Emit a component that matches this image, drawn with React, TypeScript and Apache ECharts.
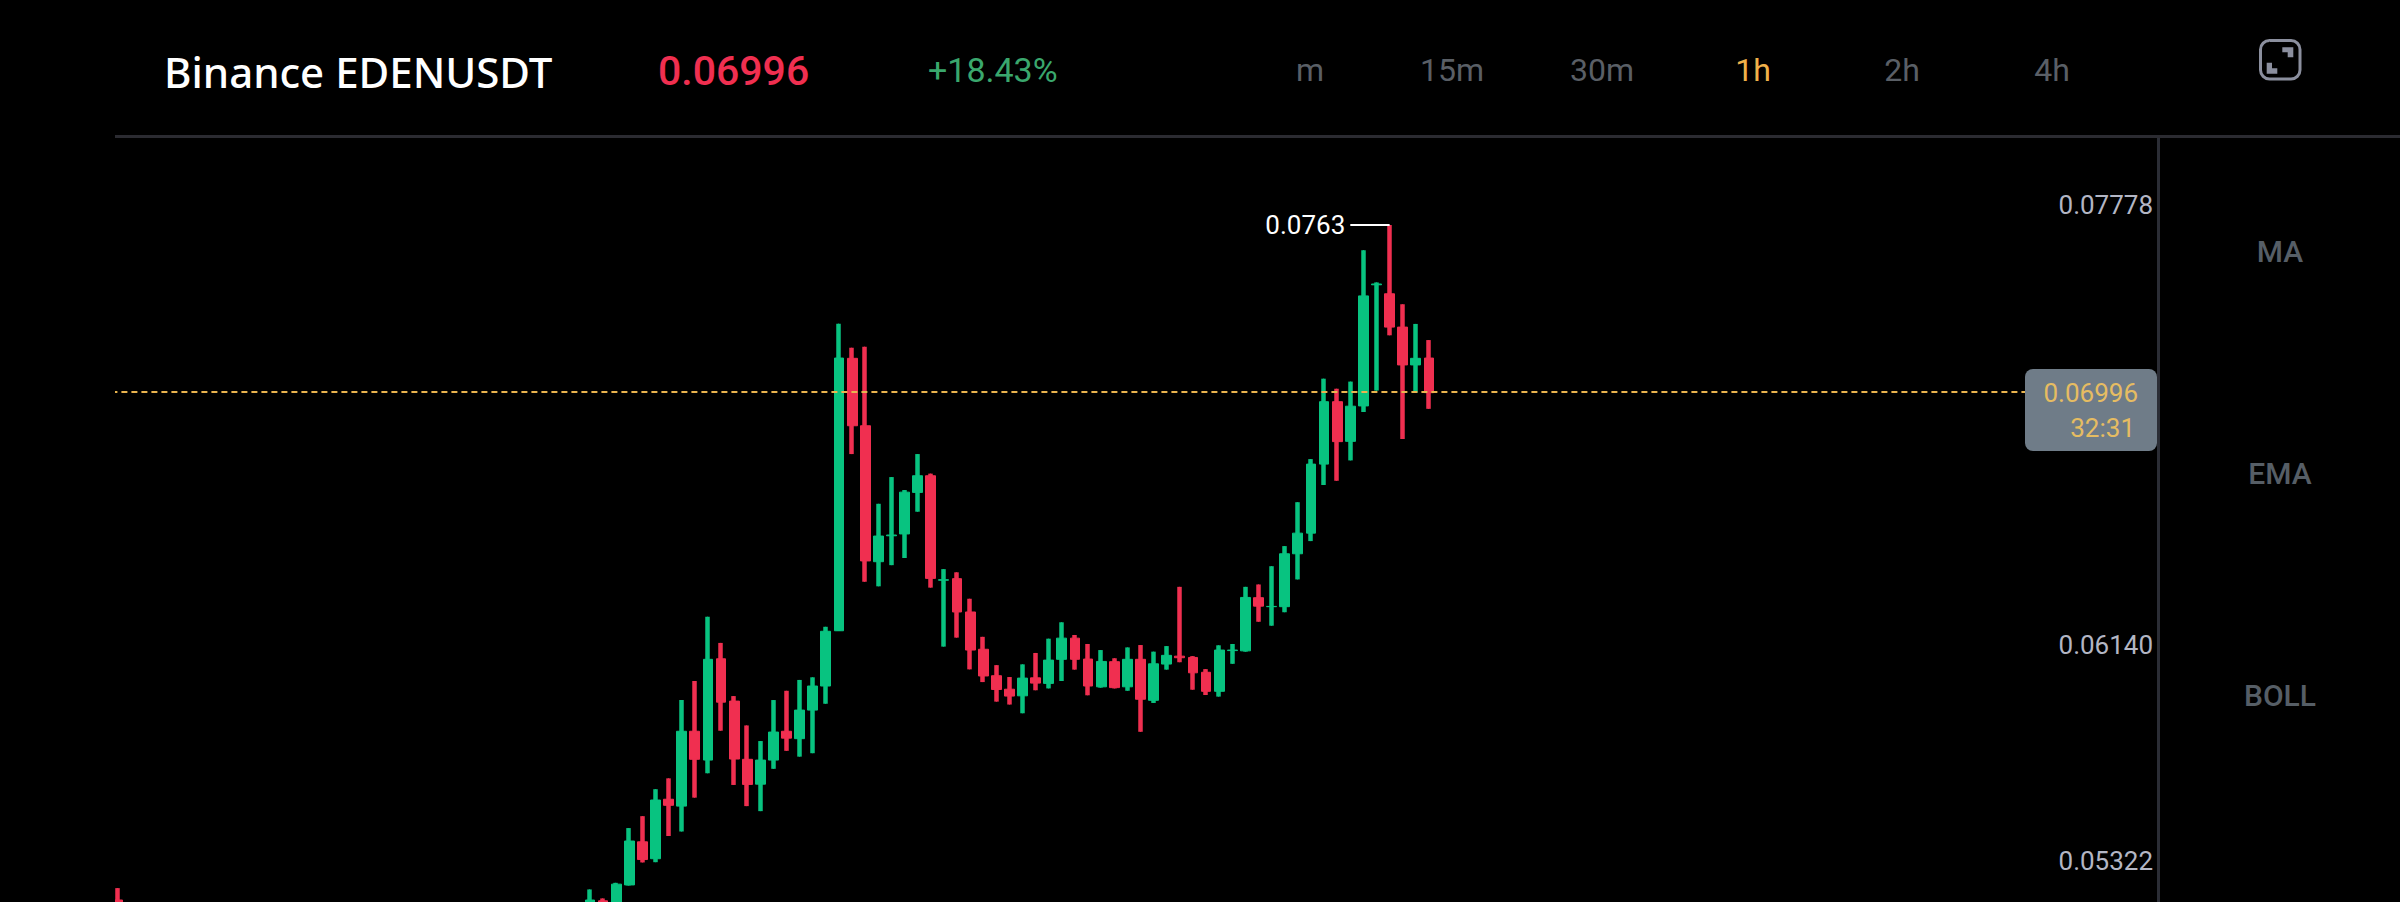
import React, { useEffect, useRef } from "react";
import * as echarts from "echarts";

const FONT = "Roboto, 'Noto Sans', sans-serif";
const TITLE_FONT = "'Noto Sans', Roboto, sans-serif";
const UP = "#08c380";
const DOWN = "#f02f50";

const symbolName = "Binance EDENUSDT";
const lastPrice = 0.06996;
const lastPriceLabel = "0.06996";
const changeLabel = "+18.43%";
const countdown = "32:31";
const intervals = ["m", "15m", "30m", "1h", "2h", "4h"];
const activeInterval = "1h";
const indicators = ["MA", "EMA", "BOLL"];
const priceTicks = [0.07778, 0.0614, 0.05322];
const highIndex = 97;
const highLabel = "0.0763";

const SLOTS = 156;
const categories = Array.from({ length: SLOTS }, (_, i) => String(i));

// index 0 is the lone candle at the left edge; 1..35 lie below the visible range
const candle0 = [0.05078, 0.0505, 0.05, 0.05123];
const candleOffset = 36;

const opens = [
  0.0505, 0.05075, 0.0505, 0.05135, 0.05298, 0.05234, 0.05459, 0.05433, 0.05716, 0.05607,
  0.0599, 0.0583, 0.0561, 0.05516, 0.05607, 0.05716, 0.05688, 0.05796, 0.05887, 0.06096,
  0.07126, 0.06871, 0.06357, 0.06455, 0.06462, 0.06619, 0.06682, 0.06287, 0.06293, 0.06167,
  0.06026, 0.05926, 0.05875, 0.0585, 0.05918, 0.05897, 0.05988, 0.06068, 0.05989, 0.05884,
  0.05979, 0.05884, 0.05988, 0.05833, 0.0597, 0.06, 0.05995, 0.05939, 0.05867, 0.06021,
  0.0602, 0.06221, 0.06187, 0.06187, 0.06387, 0.06465, 0.06726, 0.06962, 0.06812, 0.06946,
  0.07404, 0.0737, 0.07244, 0.07101, 0.07127,
];
const closes = [
  0.05078, 0.0504, 0.05138, 0.05301, 0.05231, 0.05456, 0.05436, 0.05716, 0.0561, 0.05988,
  0.05826, 0.05611, 0.05515, 0.05607, 0.05713, 0.0569, 0.05796, 0.05887, 0.06094, 0.07127,
  0.06871, 0.0636, 0.06454, 0.06458, 0.0662, 0.06682, 0.06294, 0.06289, 0.06167, 0.06023,
  0.05925, 0.05874, 0.05849, 0.05917, 0.05898, 0.05985, 0.06068, 0.05988, 0.05887, 0.0598,
  0.05881, 0.05988, 0.05837, 0.05971, 0.06003, 0.05994, 0.05937, 0.05867, 0.06023, 0.06023,
  0.06222, 0.06189, 0.06188, 0.06387, 0.06465, 0.06726, 0.06962, 0.06811, 0.06945, 0.07362,
  0.07407, 0.07244, 0.07101, 0.07126, 0.06996,
];
const lows = [
  0.0502, 0.0502, 0.0503, 0.05133, 0.0522, 0.05221, 0.0532, 0.05337, 0.05465, 0.05557,
  0.05718, 0.05513, 0.05433, 0.05414, 0.05574, 0.05642, 0.0562, 0.05633, 0.0582, 0.06095,
  0.06764, 0.06281, 0.06264, 0.06344, 0.06371, 0.06546, 0.06259, 0.06036, 0.0607, 0.0595,
  0.05902, 0.05828, 0.05817, 0.05784, 0.05871, 0.05878, 0.05906, 0.05949, 0.05852, 0.05881,
  0.05878, 0.05869, 0.05714, 0.05823, 0.05949, 0.05977, 0.05873, 0.05853, 0.05847, 0.05971,
  0.06017, 0.0613, 0.06115, 0.06166, 0.0629, 0.06435, 0.06647, 0.06663, 0.0674, 0.06923,
  0.07004, 0.07213, 0.06821, 0.06996, 0.06935,
];
const highs = [
  0.05118, 0.05084, 0.05143, 0.0535, 0.05395, 0.05497, 0.05538, 0.05834, 0.05906, 0.06149,
  0.0605, 0.05849, 0.05738, 0.05679, 0.05834, 0.05869, 0.0591, 0.0592, 0.06111, 0.07257,
  0.07166, 0.0717, 0.06576, 0.06677, 0.06628, 0.06764, 0.0669, 0.06329, 0.06317, 0.06217,
  0.06073, 0.05966, 0.05921, 0.05969, 0.06012, 0.06066, 0.06128, 0.0608, 0.06046, 0.06023,
  0.05992, 0.06033, 0.06042, 0.06017, 0.06038, 0.06262, 0.06, 0.05951, 0.06041, 0.06046,
  0.06262, 0.06271, 0.0634, 0.06416, 0.06582, 0.06745, 0.07049, 0.07011, 0.07038, 0.07535,
  0.07413, 0.0763, 0.0733, 0.07256, 0.07195,
];

const intervalCentres = [1310, 1452, 1602, 1753, 1902, 2052];
const indicatorCentres = [251, 473, 695];

type Row = [number, number, number, number, number];

function rows(): Row[] {
  const out: Row[] = [[0, candle0[0], candle0[1], candle0[2], candle0[3]]];
  opens.forEach((o, i) => {
    out.push([i + candleOffset, o, closes[i], lows[i], highs[i]]);
  });
  return out;
}

function label(text: string, x: number, y: number, fill: string, font: string, align = "center") {
  return {
    type: "text",
    z: 100,
    style: { text, x, y, fill, font, textAlign: align, textVerticalAlign: "middle" },
  };
}

export default function App() {
  const ref = useRef<HTMLDivElement>(null);

  useEffect(() => {
    document.body.style.margin = "0";
    document.body.style.background = "#000";
    const chart = echarts.init(ref.current!, null, { renderer: "svg", width: 2400, height: 902 });

    const pxPerUnit = 26450;
    const top = 138;
    const bottom = 902;
    const priceY = 392.7;
    const yMax = lastPrice + (priceY - top) / pxPerUnit;
    const yMin = lastPrice - (bottom - priceY) / pxPerUnit;

    const data = rows();
    const candleStyle = (width: number) => ({
      color: UP,
      color0: DOWN,
      borderColor: UP,
      borderColor0: DOWN,
      borderWidth: width,
    });
    const encode = { x: 0, y: [1, 2, 3, 4] };

    chart.setOption({
      animation: false,
      backgroundColor: "#000",
      grid: {
        left: 111.4,
        top,
        width: 13.11 * SLOTS,
        height: bottom - top,
        containLabel: false,
        outerBoundsMode: "none",
      },
      xAxis: {
        type: "category",
        data: categories,
        boundaryGap: true,
        axisLine: { show: false },
        axisTick: { show: false },
        axisLabel: { show: false },
        splitLine: { show: false },
      },
      yAxis: {
        type: "value",
        position: "right",
        offset: 1.5,
        min: yMin,
        max: yMax,
        scale: true,
        splitLine: { show: false },
        axisTick: { show: false },
        axisLine: { show: true, lineStyle: { color: "#2b2d35", width: 3 } },
        axisLabel: {
          customValues: priceTicks,
          inside: true,
          margin: 5,
          verticalAlign: "top",
          color: "#b3b6c4",
          fontFamily: FONT,
          fontSize: 26,
          formatter: (v: number) => (v > 0.07 ? `{t|${v.toFixed(5)}}` : `{b|${v.toFixed(5)}}`),
          rich: {
            t: { lineHeight: 38, fontSize: 26, fontFamily: FONT, color: "#b3b6c4" },
            b: { lineHeight: 52, fontSize: 26, fontFamily: FONT, color: "#b3b6c4" },
          },
        },
      },
      series: [
        {
          name: "wick",
          type: "candlestick",
          z: 2,
          barWidth: 0.1,
          encode,
          data,
          itemStyle: candleStyle(4.5),
        },
        {
          name: "EDENUSDT",
          type: "candlestick",
          z: 3,
          barWidth: 10.3,
          encode,
          data,
          itemStyle: candleStyle(1),
          markLine: {
            silent: true,
            symbol: "none",
            animation: false,
            data: [
              {
                yAxis: lastPrice,
                label: { show: false },
                lineStyle: { color: "#e9b44f", width: 2, type: [6, 4] },
              },
              [
                {
                  coord: [highIndex - 3, highs[highIndex - candleOffset]],
                  lineStyle: { color: "#fff", width: 2, type: "solid" },
                  label: {
                    show: true,
                    position: "start",
                    formatter: highLabel,
                    color: "#fff",
                    fontFamily: FONT,
                    fontSize: 26,
                    distance: 5,
                  },
                },
                { coord: [highIndex, highs[highIndex - candleOffset]] },
              ],
            ],
          },
        },
      ],
      graphic: {
        elements: [
          // masks the part of the first band that lies outside the plot
          { type: "rect", z: 90, shape: { x: 0, y: 139, width: 115, height: 763 }, style: { fill: "#000" } },
          { type: "rect", z: 91, shape: { x: 115, y: 135, width: 2285, height: 3 }, style: { fill: "#2b2b31" } },
          label(symbolName, 164, 71, "#ffffff", `500 42px ${TITLE_FONT}`, "left"),
          label(lastPriceLabel, 658, 71, DOWN, `500 41px ${FONT}`, "left"),
          label(changeLabel, 928, 70, "#3aa76d", `400 34px ${FONT}`, "left"),
          ...intervals.map((t, i) =>
            label(t, intervalCentres[i], 70, t === activeInterval ? "#f0b14a" : "#5a5f66", `400 32px ${FONT}`)
          ),
          {
            type: "rect",
            z: 100,
            shape: { x: 2260.5, y: 40.5, width: 39.5, height: 38.5, r: 9 },
            style: { fill: "none", stroke: "#8b8f9e", lineWidth: 3 },
          },
          {
            type: "polygon",
            z: 100,
            shape: { points: [[2282.3, 47.3], [2293.3, 47.3], [2293.3, 57.3], [2287.7, 57.3], [2287.7, 52.3], [2282.3, 52.3]] },
            style: { fill: "#8b8f9e" },
          },
          {
            type: "polygon",
            z: 100,
            shape: { points: [[2266.7, 62.7], [2272, 62.7], [2272, 68.3], [2277.3, 68.3], [2277.3, 73.7], [2266.7, 73.7]] },
            style: { fill: "#8b8f9e" },
          },
          {
            type: "rect",
            z: 95,
            shape: { x: 2025, y: 369, width: 132, height: 82, r: 8 },
            style: { fill: "#6f7c88" },
          },
          label(lastPriceLabel, 2138, 393, "#e6bc62", `400 26px ${FONT}`, "right"),
          label(countdown, 2135, 428, "#e6bc62", `400 26px ${FONT}`, "right"),
          ...indicators.map((t, i) => label(t, 2280, indicatorCentres[i], "#565e66", `500 30px ${FONT}`)),
        ],
      },
    });

    return () => chart.dispose();
  }, []);

  return <div ref={ref} style={{ position: "fixed", left: 0, top: 0, width: 2400, height: 902 }} />;
}
